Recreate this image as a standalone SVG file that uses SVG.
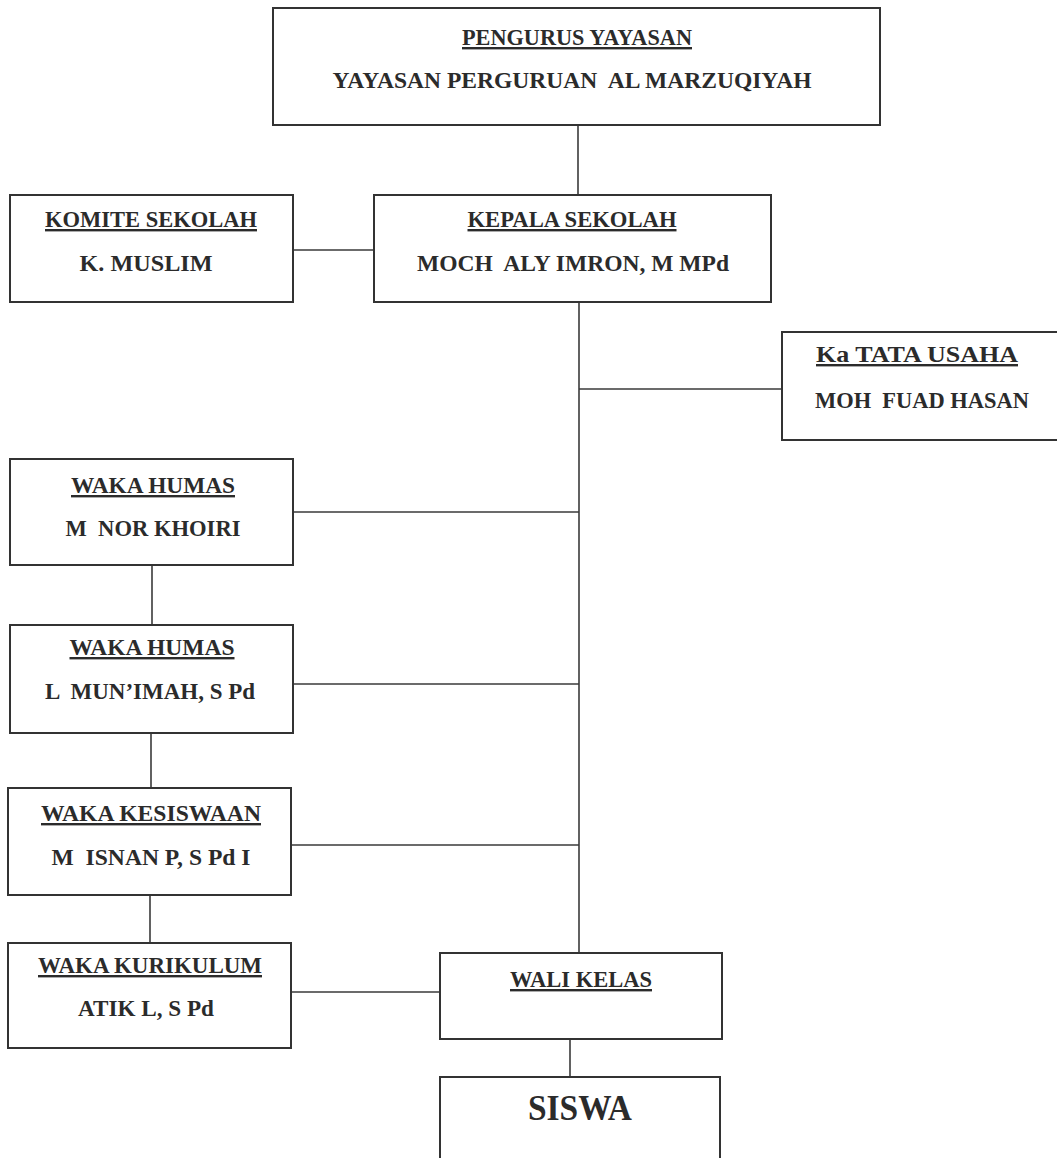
<svg xmlns="http://www.w3.org/2000/svg" width="1057" height="1158" viewBox="0 0 1057 1158">
<style>
.box{fill:#fff;stroke:#333;stroke-width:2}
.ln{stroke:#3a3a3a;stroke-width:1.6;fill:none}
.t{font-family:"Liberation Serif","Times New Roman",serif;font-weight:bold;font-size:24px;fill:#2b2b2b;text-anchor:middle;white-space:pre}
.u{text-decoration:underline}
.big{font-size:36px}
</style>
<rect width="1057" height="1158" fill="#fff"/>
<g id="connectors">
<line class="ln" x1="578" y1="125" x2="578" y2="195"/>
<line class="ln" x1="293" y1="250" x2="374" y2="250"/>
<line class="ln" x1="579" y1="302" x2="579" y2="953"/>
<line class="ln" x1="579" y1="389" x2="782" y2="389"/>
<line class="ln" x1="293" y1="512" x2="579" y2="512"/>
<line class="ln" x1="152" y1="565" x2="152" y2="625"/>
<line class="ln" x1="293" y1="684" x2="579" y2="684"/>
<line class="ln" x1="151" y1="733" x2="151" y2="788"/>
<line class="ln" x1="291" y1="845" x2="579" y2="845"/>
<line class="ln" x1="150" y1="895" x2="150" y2="943"/>
<line class="ln" x1="291" y1="992" x2="440" y2="992"/>
<line class="ln" x1="570" y1="1039" x2="570" y2="1077"/>
</g>
<g id="pengurus">
<rect class="box" x="273" y="8" width="607" height="117"/>
<text class="t u" x="577" y="45" textLength="230" lengthAdjust="spacingAndGlyphs">PENGURUS YAYASAN</text>
<text class="t" x="572" y="88" textLength="479" lengthAdjust="spacingAndGlyphs">YAYASAN PERGURUAN  AL MARZUQIYAH</text>
</g>
<g id="komite">
<rect class="box" x="10" y="195" width="283" height="107"/>
<text class="t u" x="151" y="227" textLength="212" lengthAdjust="spacingAndGlyphs">KOMITE SEKOLAH</text>
<text class="t" x="146" y="271" textLength="133" lengthAdjust="spacingAndGlyphs">K. MUSLIM</text>
</g>
<g id="kepala">
<rect class="box" x="374" y="195" width="397" height="107"/>
<text class="t u" x="572" y="227" textLength="209" lengthAdjust="spacingAndGlyphs">KEPALA SEKOLAH</text>
<text class="t" x="573" y="271" textLength="312" lengthAdjust="spacingAndGlyphs">MOCH  ALY IMRON, M MPd</text>
</g>
<g id="tatausaha">
<rect class="box" x="782" y="332" width="278" height="108"/>
<text class="t u" x="917" y="362" textLength="202" lengthAdjust="spacingAndGlyphs">Ka TATA USAHA</text>
<text class="t" x="922" y="408" textLength="214" lengthAdjust="spacingAndGlyphs">MOH  FUAD HASAN</text>
</g>
<g id="humas1">
<rect class="box" x="10" y="459" width="283" height="106"/>
<text class="t u" x="153" y="493" textLength="164" lengthAdjust="spacingAndGlyphs">WAKA HUMAS</text>
<text class="t" x="153" y="536" textLength="175" lengthAdjust="spacingAndGlyphs">M  NOR KHOIRI</text>
</g>
<g id="humas2">
<rect class="box" x="10" y="625" width="283" height="108"/>
<text class="t u" x="152" y="655" textLength="165" lengthAdjust="spacingAndGlyphs">WAKA HUMAS</text>
<text class="t" x="150" y="699" textLength="210" lengthAdjust="spacingAndGlyphs">L  MUN’IMAH, S Pd</text>
</g>
<g id="kesiswaan">
<rect class="box" x="8" y="788" width="283" height="107"/>
<text class="t u" x="151" y="821" textLength="220" lengthAdjust="spacingAndGlyphs">WAKA KESISWAAN</text>
<text class="t" x="151" y="865" textLength="199" lengthAdjust="spacingAndGlyphs">M  ISNAN P, S Pd I</text>
</g>
<g id="kurikulum">
<rect class="box" x="8" y="943" width="283" height="105"/>
<text class="t u" x="150" y="973" textLength="224" lengthAdjust="spacingAndGlyphs">WAKA KURIKULUM</text>
<text class="t" x="146" y="1016" textLength="136" lengthAdjust="spacingAndGlyphs">ATIK L, S Pd</text>
</g>
<g id="walikelas">
<rect class="box" x="440" y="953" width="282" height="86"/>
<text class="t u" x="581" y="987" textLength="142" lengthAdjust="spacingAndGlyphs">WALI KELAS</text>
</g>
<g id="siswa">
<rect class="box" x="440" y="1077" width="280" height="100"/>
<text class="t big" x="580" y="1120" textLength="104" lengthAdjust="spacingAndGlyphs">SISWA</text>
</g>
</svg>
